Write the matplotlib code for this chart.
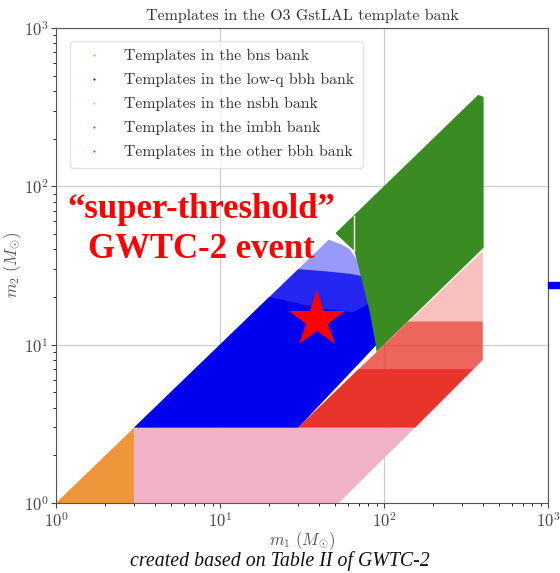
import numpy as np
import matplotlib
matplotlib.use("Agg")
import matplotlib.pyplot as plt
from matplotlib.lines import Line2D
from matplotlib.patches import Rectangle

plt.rcParams['font.family'] = 'cmr10'
plt.rcParams['mathtext.fontset'] = 'cm'
plt.rcParams['axes.formatter.use_mathtext'] = True

# ~ region outlines (m1, m2) in solar masses
bns_m1 = [1, 3, 3]
bns_m2 = [1, 3, 1]

nsbh_m1 = [3, 3, 155, 53]
nsbh_m2 = [1, 3, 3, 1]

# ~ low-q bbh : whole zone (sparse top), middle and dense part
lowq_m1 = [3, 46, 55, 62, 70, 80, 86, 90, 30]
lowq_m2 = [3, 46, 43, 40, 33, 25, 16, 10, 3]
lowq_mid_m1 = [3, 30, 45, 62, 75, 82, 86, 90, 30]
lowq_mid_m2 = [3, 30, 29, 28, 27, 24, 16, 10, 3]
lowq_core_m1 = [3, 20, 40, 65, 80, 86, 90, 30]
lowq_core_m2 = [3, 20, 17, 16, 18, 16, 10, 3]

imbh_m1 = [51, 375, 405, 405, 90, 89, 82, 73, 66, 51]
imbh_m2 = [51, 378, 367, 41, 9, 10, 16, 26, 39, 50]
# ~ small white gap inside the imbh block
gap_m1 = [66, 66]
gap_m2 = [39, 65]

# ~ other bbh : whole zone, middle and dense part
other_m1 = [30, 155, 400, 400]
other_m2 = [3, 3, 8, 39]
other_mid_m1 = [30, 155, 400, 400, 140]
other_mid_m2 = [3, 3, 8, 14, 14]
other_core_m1 = [30, 155, 350, 70]
other_core_m2 = [3, 3, 7, 7]

event_m1 = 39
event_m2 = 14.3

c_bns = '#f0963a'
c_nsbh = '#f0b2c6'
c_lowq = '#0000f0'
c_imbh = '#3a8c22'
c_other = '#e8342a'

fig = plt.figure(figsize=(5.6, 5.73), dpi=100)
ax = fig.add_axes([0.1, 0.1222, 0.8786, 0.829])
ax.set_xscale('log')
ax.set_yscale('log')
ax.set_xlim(1, 1000)
ax.set_ylim(1, 1000)
ax.grid(True, which='major', color='#cccccc', lw=0.9, zorder=0)
ax.set_axisbelow(True)

ax.fill(bns_m1, bns_m2, color=c_bns, lw=0, zorder=2)
ax.fill(nsbh_m1, nsbh_m2, color=c_nsbh, lw=0, zorder=2)

ax.fill(lowq_m1, lowq_m2, color=c_lowq, alpha=0.4, lw=0, zorder=2)
ax.fill(lowq_mid_m1, lowq_mid_m2, color=c_lowq, alpha=0.75, lw=0, zorder=2)
ax.fill(lowq_core_m1, lowq_core_m2, color=c_lowq, lw=0, zorder=2)

ax.fill(other_m1, other_m2, color=c_other, alpha=0.3, lw=0, zorder=2)
ax.fill(other_mid_m1, other_mid_m2, color=c_other, alpha=0.65, lw=0, zorder=2)
ax.fill(other_core_m1, other_core_m2, color=c_other, lw=0, zorder=2)

ax.fill(imbh_m1, imbh_m2, color=c_imbh, lw=0, zorder=3)
ax.plot(gap_m1, gap_m2, color='white', lw=1, zorder=3)

ax.plot(event_m1, event_m2, marker='*', color='red', markersize=43, mew=0, zorder=5)

ax.text(0.295, 0.575, '\u201csuper-threshold\u201d\nGWTC-2 event', transform=ax.transAxes,
        color='red', fontsize=25, fontweight='bold', family='Liberation Serif',
        ha='center', va='center', multialignment='center', linespacing=1.28, zorder=6)

ax.set_title('Templates in the O3 GstLAL template bank', fontsize=11.5, color='#333333', pad=6)
ax.set_xlabel(r'$m_1\ (M_{\odot})$', fontsize=12, color='#555555', labelpad=0)
ax.set_ylabel(r'$m_2\ (M_{\odot})$', fontsize=12, color='#555555', labelpad=0)
ax.tick_params(labelsize=12, colors='#444444', pad=2)
for s in ax.spines.values():
    s.set_color('#555555')

labels = ['Templates in the bns bank', 'Templates in the low-q bbh bank',
          'Templates in the nsbh bank', 'Templates in the imbh bank',
          'Templates in the other bbh bank']
cols = [c_bns, c_lowq, c_nsbh, c_imbh, c_other]
handles = [Line2D([], [], ls='', marker='o', markersize=1.5, color=c, mew=0) for c in cols]
leg = ax.legend(handles, labels, loc='upper left', fontsize=11.3, frameon=True,
                borderpad=0.55, labelspacing=0.62, handletextpad=0.9, bbox_to_anchor=(0.012, 0.99))
leg.get_frame().set_edgecolor('#dddddd')
for t in leg.get_texts():
    t.set_color('#333333')

fig.text(0.5, 1 - 561 / 573, 'created based on Table II of GWTC-2', ha='center', va='center',
         fontsize=14.3, style='italic', family='Liberation Serif', color='#111111')

fig.patches.append(Rectangle((548 / 560, 1 - 288 / 573), 12 / 560, 6 / 573,
                             transform=fig.transFigure, color='#0000f0', zorder=10))

fig.savefig('out.png', dpi=100)
